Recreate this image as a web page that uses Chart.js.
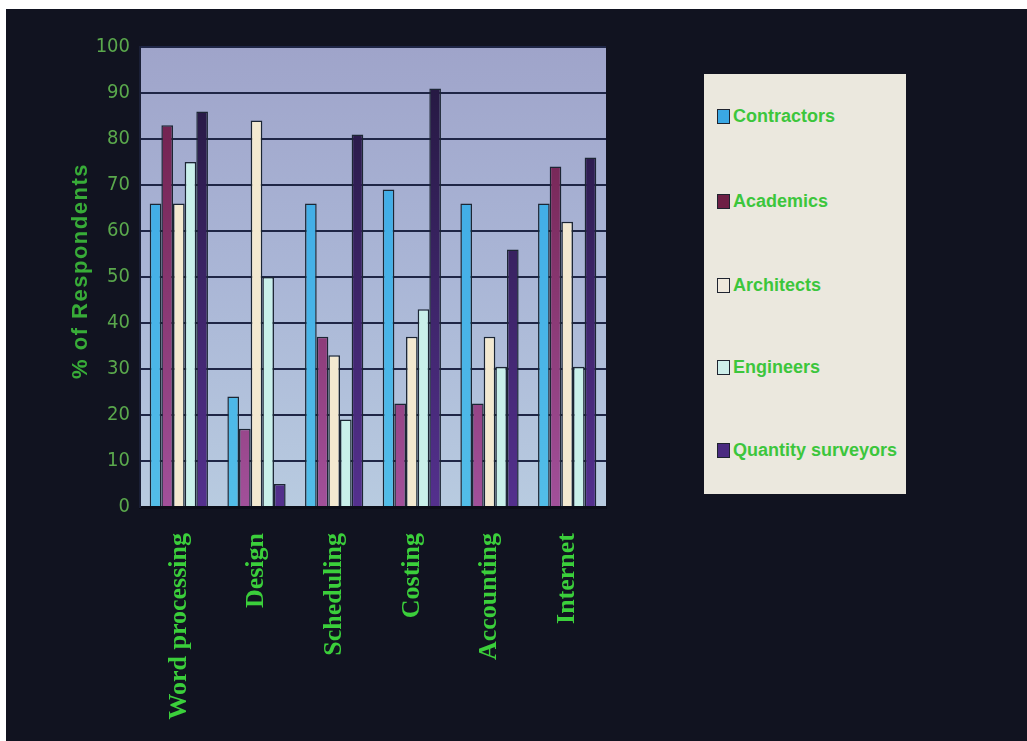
<!DOCTYPE html>
<html>
<head>
<meta charset="utf-8">
<script src="https://cdn.jsdelivr.net/npm/chart.js@4.4.1/dist/chart.umd.min.js"></script>
<style>
  html, body { margin: 0; padding: 0; background: #ffffff; width: 1027px; height: 741px; overflow: hidden; }
  #wrap { position: absolute; left: 6px; top: 9px; width: 1021px; height: 732px; background: #111320; }
  #legend { position: absolute; left: 698px; top: 65px; width: 202px; height: 420px; background: #ebe8de; }
  .item { position: absolute; left: 13px; height: 22px; display: flex; align-items: center;
          font-family: 'Liberation Sans', Arial, sans-serif; font-weight: bold; font-size: 18px; color: #3cc63c; white-space: nowrap; }
  .sw { width: 11px; height: 13px; border: 1.5px solid #1f2430; margin-right: 3px; }
</style>
</head>
<body>
<div id="wrap">
  <canvas id="c"></canvas>
  <div id="legend"></div>
</div>
<script>
const categories = ['Word processing', 'Design', 'Scheduling', 'Costing', 'Accounting', 'Internet'];
const contractors = [66, 24, 66, 69, 66, 66];
const academics = [83, 17, 37, 22.5, 22.5, 74];
const architects = [66, 84, 33, 37, 37, 62];
const engineers = [75, 50, 19, 43, 30.5, 30.5];
const quantitySurveyors = [86, 5, 81, 91, 56, 76];
const yTicks = [0, 10, 20, 30, 40, 50, 60, 70, 80, 90, 100];
const yTitle = '% of Respondents';

function vgrad(top, bottom) {
  return (ctx) => {
    const ca = ctx.chart.chartArea;
    if (!ca) return bottom;
    const g = ctx.chart.ctx.createLinearGradient(0, ca.top, 0, ca.bottom);
    g.addColorStop(0, top);
    g.addColorStop(1, bottom);
    return g;
  };
}

const seriesDefs = [
  { label: 'Contractors', data: contractors, bg: vgrad('#3aa6e6', '#52bde8'), swatch: '#3aa8e4' },
  { label: 'Academics', data: academics, bg: vgrad('#6a1a42', '#a2509a'), swatch: '#6e1f45' },
  { label: 'Architects', data: architects, bg: '#f3e9d0', swatch: '#efe8dc' },
  { label: 'Engineers', data: engineers, bg: '#c9f0ea', swatch: '#cdeeea' },
  { label: 'Quantity surveyors', data: quantitySurveyors, bg: vgrad('#22173c', '#54308e'), swatch: '#4a2a80' }
];

const plotBg = {
  id: 'plotBg',
  beforeDraw(chart) {
    const { ctx, chartArea: a } = chart;
    const g = ctx.createLinearGradient(0, a.top, 0, a.bottom);
    g.addColorStop(0, '#9fa4ca');
    g.addColorStop(0.5, '#aab6d6');
    g.addColorStop(1, '#b8cbe0');
    ctx.save();
    ctx.fillStyle = g;
    ctx.fillRect(a.left, a.top, a.right - a.left, a.bottom - a.top);
    ctx.restore();
  }
};

const yTitlePlugin = {
  id: 'yTitlePlugin',
  afterDraw(chart) {
    const { ctx, chartArea: a } = chart;
    ctx.save();
    ctx.translate(75, (a.top + a.bottom) / 2 - 6);
    ctx.rotate(-Math.PI / 2);
    ctx.font = 'bold 22px "Liberation Sans", Arial, sans-serif';
    try { ctx.letterSpacing = '1.5px'; } catch (e) {}
    ctx.fillStyle = '#38ac38';
    ctx.textAlign = 'center';
    ctx.textBaseline = 'middle';
    ctx.fillText(yTitle, 0, 0);
    ctx.restore();
  }
};

const chart = new Chart(document.getElementById('c'), {
  type: 'bar',
  data: {
    labels: categories,
    datasets: seriesDefs.map(s => ({
      label: s.label,
      data: s.data,
      backgroundColor: s.bg,
      borderColor: '#1c2634',
      borderWidth: 1.5,
      borderSkipped: 'bottom',
      categoryPercentage: 0.75,
      barPercentage: 1.0
    }))
  },
  options: {
    responsive: true,
    maintainAspectRatio: false,
    animation: false,
    layout: { padding: { top: 38, right: 421, left: 0, bottom: 0 } },
    plugins: { legend: { display: false }, tooltip: { enabled: false } },
    scales: {
      x: {
        grid: { display: false, drawTicks: false },
        border: { display: true, color: '#0b0d18', width: 3 },
        ticks: {
          minRotation: 90, maxRotation: 90, padding: 26,
          color: '#3bcf3b',
          font: { family: "'Liberation Serif', 'Times New Roman', serif", weight: 'bold', size: 26 }
        },
        afterFit(scale) { scale.height = 234; }
      },
      y: {
        min: 0, max: 100,
        afterBuildTicks(scale) { scale.ticks = yTicks.map(v => ({ value: v })); },
        grid: { color: '#1f2646', lineWidth: 2, drawTicks: false },
        border: { display: true, color: '#1a1f36', width: 2 },
        ticks: {
          padding: 10,
          color: '#5aa84c',
          font: { family: "'Liberation Sans Narrow', 'DejaVu Sans Condensed', 'Liberation Sans', sans-serif", size: 20 }
        },
        afterFit(scale) { scale.width = 134; }
      }
    }
  },
  plugins: [plotBg, yTitlePlugin]
});

// HTML legend built from datasets
const legend = document.getElementById('legend');
const itemTops = [31, 116, 200, 282, 365];
chart.data.datasets.forEach((ds, i) => {
  const it = document.createElement('div');
  it.className = 'item';
  it.style.top = itemTops[i] + 'px';
  const sw = document.createElement('span');
  sw.className = 'sw';
  sw.style.background = seriesDefs[i].swatch;
  const tx = document.createElement('span');
  tx.textContent = ds.label;
  it.appendChild(sw);
  it.appendChild(tx);
  legend.appendChild(it);
});
</script>
</body>
</html>
